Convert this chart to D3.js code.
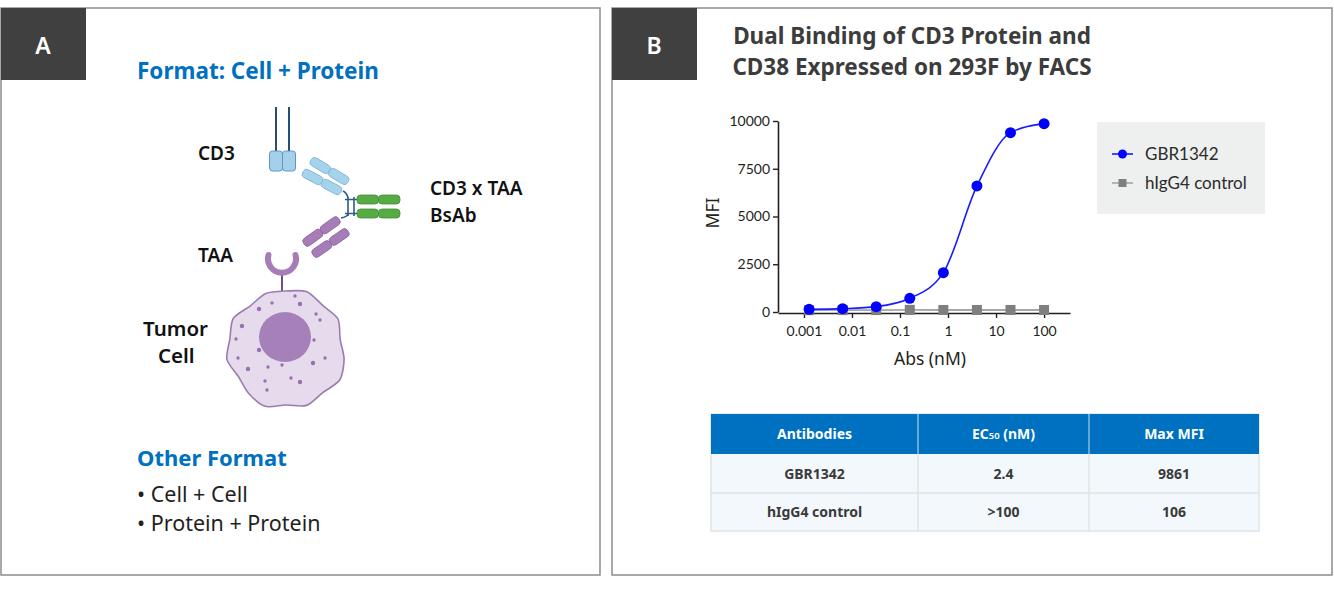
<!DOCTYPE html>
<html>
<head>
<meta charset="utf-8">
<script src="https://cdn.jsdelivr.net/npm/d3@7"></script>
<style>
  body { margin: 0; background: #fff; }
  svg { display: block; font-family: "Noto Sans", Lato, sans-serif; }
</style>
</head>
<body>
<script>
//Data
const doses = [0.00128, 0.0064, 0.032, 0.16, 0.8, 4, 20, 100];
const gbrMFI = [140, 175, 280, 716, 2060, 6600, 9390, 9861];
const ctrlMFI = [95, 100, 100, 110, 106, 106, 106, 106];
const xTicks = [0.001, 0.01, 0.1, 1, 10, 100];
const yTicks = [0, 2500, 5000, 7500, 10000];
const seriesNames = ["GBR1342", "hIgG4 control"];
const tableHeader = ["Antibodies", "EC|50| (nM)", "Max MFI"];
const tableRows = [["GBR1342", "2.4", "9861"], ["hIgG4 control", ">100", "106"]];
const otherFormats = ["Cell + Cell", "Protein + Protein"];

//Variables
const width = 1334;
const height = 595;
const ink = "#231f20";
const blue = "#0070c0";

const svg = d3.select("body")
    .append("svg")
    .attr("width", width)
    .attr("height", height);

//Panels
const panels = [
    {x: 1, w: 599, label: "A"},
    {x: 612, w: 720, label: "B"}
];
panels.forEach(p => {
    svg.append("rect")
        .attr("x", p.x).attr("y", 8)
        .attr("width", p.w).attr("height", 567)
        .attr("fill", "none")
        .attr("stroke", "#8d8d8d")
        .attr("stroke-width", 1.5);
    svg.append("rect")
        .attr("x", p.x).attr("y", 8)
        .attr("width", 85).attr("height", 72)
        .attr("fill", "#404041");
    svg.append("text")
        .attr("x", p.x + 42).attr("y", 54)
        .attr("text-anchor", "middle")
        .attr("fill", "#fff")
        .attr("font-size", 23)
        .attr("font-weight", 600)
        .text(p.label);
});

//Panel A text
svg.append("text")
    .attr("x", 137).attr("y", 79)
    .attr("fill", blue).attr("font-size", 22.5).attr("font-weight", "bold")
    .text("Format: Cell + Protein");

const labelsA = [
    ["CD3", 198, 160, 19], ["TAA", 198, 262, 19], ["CD3 x TAA", 430, 195, 19],
    ["BsAb", 430, 222, 19], ["Tumor", 143, 336, 20.5], ["Cell", 158, 363, 20.5]
];
labelsA.forEach(l => {
    svg.append("text")
        .attr("x", l[1]).attr("y", l[2])
        .attr("fill", "#111").attr("font-size", l[3])
        .attr("font-weight", 600)
        .text(l[0]);
});

svg.append("text")
    .attr("x", 137).attr("y", 466)
    .attr("fill", blue).attr("font-size", 22).attr("font-weight", "bold")
    .text("Other Format");

otherFormats.forEach((t, i) => {
    svg.append("text")
        .attr("x", 137).attr("y", 502 + i * 29)
        .attr("fill", ink).attr("font-size", 21.5)
        .text("\u2022 " + t);
});

//Illustration
const art = svg.append("g");

// CD3 receptor
[276, 289].forEach(cx => {
    art.append("line")
        .attr("x1", cx).attr("x2", cx).attr("y1", 107).attr("y2", 152)
        .attr("stroke", "#264d73").attr("stroke-width", 2);
    art.append("rect")
        .attr("x", cx - 6.5).attr("y", 151)
        .attr("width", 13).attr("height", 20).attr("rx", 3)
        .attr("fill", "#a4d0ea").attr("stroke", "#5f97c2").attr("stroke-width", 1);
});

// helper: a bar of two rounded segments between two points
function segBar(x1, y1, x2, y2, w, fill, stroke) {
    const len = Math.hypot(x2 - x1, y2 - y1);
    const ang = Math.atan2(y2 - y1, x2 - x1) * 180 / Math.PI;
    const g = art.append("g")
        .attr("transform", `translate(${x1},${y1}) rotate(${ang})`);
    [0, 1].forEach(k => {
        g.append("rect")
            .attr("x", k * len / 2).attr("y", -w / 2)
            .attr("width", len / 2).attr("height", w)
            .attr("rx", w / 2.5)
            .attr("fill", fill).attr("stroke", stroke).attr("stroke-width", 0.8);
    });
}

// connectors
const conn = "#2b5b87";
art.append("path")
    .attr("d", "M343,191 Q347,193 348,198 M341,218 Q347,217 348,214")
    .attr("fill", "none").attr("stroke", conn).attr("stroke-width", 1.6);
art.append("path")
    .attr("d", "M348,197 V216 M354,197 V216 M345,199.5 H358 M345,213.5 H358")
    .attr("fill", "none").attr("stroke", conn).attr("stroke-width", 1.6);

// Fab arms
segBar(311, 160, 348, 182, 9, "#a6d3ec", "#7ab3d6");
segBar(303, 172, 341, 192, 9, "#a6d3ec", "#7ab3d6");
segBar(304, 244, 339, 219, 9, "#a77db8", "#8d63a0");
segBar(313, 255, 348, 231, 9, "#a77db8", "#8d63a0");

// Fc
segBar(357, 199.5, 400, 199.5, 9, "#57ab45", "#3f8f32");
segBar(357, 213.5, 400, 213.5, 9, "#57ab45", "#3f8f32");

// TAA receptor
art.append("line")
    .attr("x1", 282).attr("x2", 282).attr("y1", 272).attr("y2", 293)
    .attr("stroke", "#6d4f80").attr("stroke-width", 2);
art.append("path")
    .attr("d", "M268.5,255 A14,14 0 1 0 295.5,255")
    .attr("fill", "none").attr("stroke", "#a77db8")
    .attr("stroke-width", 6).attr("stroke-linecap", "round");

// Tumor cell
const cellRadii = [58, 61, 57, 60, 55, 59, 62, 57, 60, 56, 61, 58, 55, 60, 57, 61, 56, 59];
const cellPath = d3.lineRadial()
    .angle((d, i) => i * 2 * Math.PI / cellRadii.length)
    .radius(d => d)
    .curve(d3.curveCardinalClosed.tension(0.2));
art.append("path")
    .attr("transform", "translate(286,349)")
    .attr("d", cellPath(cellRadii))
    .attr("fill", "#e5dbed").attr("stroke", "#9c7cb0").attr("stroke-width", 1.6);
art.append("ellipse")
    .attr("cx", 285).attr("cy", 337).attr("rx", 26).attr("ry", 25)
    .attr("fill", "#a680b9");
const cellDots = [[259,309],[272,303],[295,296],[300,304],[316,314],[320,320],[242,326],[236,339],
    [314,340],[259,350],[238,358],[325,358],[248,369],[268,367],[282,365],[313,363],[265,381],
    [291,378],[300,382],[267,390]];
art.selectAll(".dot").data(cellDots).join("circle")
    .attr("cx", d => d[0]).attr("cy", d => d[1])
    .attr("r", (d, i) => i % 3 === 0 ? 2.2 : 1.7)
    .attr("fill", "#9a70af");

//Panel B title
["Dual Binding of CD3 Protein and", "CD38 Expressed on 293F by FACS"].forEach((t, i) => {
    svg.append("text")
        .attr("x", 912).attr("y", 44 + i * 31)
        .attr("text-anchor", "middle")
        .attr("fill", "#3c3c3c").attr("font-size", 22.5).attr("font-weight", "bold")
        .text(t);
});

//Scales
const xScale = d3.scaleLog()
    .domain([Math.pow(10, -3.54), Math.pow(10, 2.54)])
    .range([778, 1070]);
const yScale = d3.scaleLinear()
    .domain([0, 10000])
    .range([312, 121]);

const xAxis = d3.axisBottom(xScale)
    .tickValues(xTicks)
    .tickFormat(d => String(d))
    .tickSize(5).tickSizeOuter(0);
const yAxis = d3.axisLeft(yScale)
    .tickValues(yTicks)
    .tickFormat(d => String(d))
    .tickSize(5).tickSizeOuter(0);

const gx = svg.append("g").attr("transform", "translate(0,313)").call(xAxis);
const gy = svg.append("g").attr("transform", "translate(778,0)").call(yAxis);
[gx, gy].forEach(g => {
    g.select(".domain").attr("stroke", ink).attr("stroke-width", 1.6);
    g.selectAll(".tick line").attr("stroke", ink).attr("stroke-width", 1.4);
    g.selectAll(".tick text")
        .attr("fill", ink).attr("font-size", 14)
        .attr("font-family", "Lato, 'Noto Sans', sans-serif");
});
gx.selectAll(".tick text").attr("dy", "1.1em");

svg.append("text")
    .attr("x", 930).attr("y", 365)
    .attr("text-anchor", "middle")
    .attr("fill", ink).attr("font-size", 17.5)
    .text("Abs (nM)");
svg.append("text")
    .attr("transform", "translate(719,213) rotate(-90)")
    .attr("text-anchor", "middle")
    .attr("fill", ink).attr("font-size", 17.5)
    .text("MFI");

//Series
const gbrData = doses.map((d, i) => ({dose: d, v: gbrMFI[i]}));
const ctrlData = doses.map((d, i) => ({dose: d, v: ctrlMFI[i]}));

const lineLin = d3.line().x(d => xScale(d.dose)).y(d => yScale(d.v));
const lineFit = d3.line().x(d => xScale(d.dose)).y(d => yScale(d.v)).curve(d3.curveMonotoneX);

svg.append("path")
    .attr("d", lineLin(ctrlData))
    .attr("fill", "none").attr("stroke", "#a6a6a6").attr("stroke-width", 1.8);
svg.selectAll(".sq").data(ctrlData).join("rect")
    .attr("x", d => xScale(d.dose) - 5).attr("y", d => yScale(d.v) - 5)
    .attr("width", 10).attr("height", 10)
    .attr("fill", "#7f7f7f");

svg.append("path")
    .attr("d", lineFit(gbrData))
    .attr("fill", "none").attr("stroke", "#1a1aff").attr("stroke-width", 1.6);
svg.selectAll(".pt").data(gbrData).join("circle")
    .attr("cx", d => xScale(d.dose)).attr("cy", d => yScale(d.v))
    .attr("r", 5.5)
    .attr("fill", "#0000ff");

//Legend
svg.append("rect")
    .attr("x", 1097).attr("y", 122).attr("width", 168).attr("height", 92)
    .attr("fill", "#eeefef");
seriesNames.forEach((name, i) => {
    const ly = 154 + i * 29;
    const col = i === 0 ? "#1a1aff" : "#a6a6a6";
    svg.append("line")
        .attr("x1", 1112).attr("x2", 1133).attr("y1", ly).attr("y2", ly)
        .attr("stroke", col).attr("stroke-width", 1.6);
    if (i === 0) {
        svg.append("circle").attr("cx", 1122.5).attr("cy", ly).attr("r", 4.5).attr("fill", "#0000ff");
    } else {
        svg.append("rect").attr("x", 1118.5).attr("y", ly - 4).attr("width", 8).attr("height", 8).attr("fill", "#7f7f7f");
    }
    svg.append("text")
        .attr("x", 1145).attr("y", ly + 6)
        .attr("fill", "#2b2b2b").attr("font-size", 17)
        .attr("font-family", "Lato, 'Noto Sans', sans-serif")
        .text(name);
});

//Table
const colEdges = [711, 918, 1089, 1259];
const rowEdges = [414, 454, 493, 531];

svg.append("rect")
    .attr("x", colEdges[0]).attr("y", rowEdges[0])
    .attr("width", colEdges[3] - colEdges[0]).attr("height", rowEdges[3] - rowEdges[0])
    .attr("fill", "#f2f8fb").attr("stroke", "#dfe4e6").attr("stroke-width", 1.5);
svg.append("rect")
    .attr("x", colEdges[0]).attr("y", rowEdges[0])
    .attr("width", colEdges[3] - colEdges[0]).attr("height", rowEdges[1] - rowEdges[0])
    .attr("fill", "#0070c0");
[1, 2].forEach(c => {
    svg.append("line")
        .attr("x1", colEdges[c]).attr("x2", colEdges[c])
        .attr("y1", rowEdges[0]).attr("y2", rowEdges[1])
        .attr("stroke", "#cfe0ee").attr("stroke-width", 1);
    svg.append("line")
        .attr("x1", colEdges[c]).attr("x2", colEdges[c])
        .attr("y1", rowEdges[1]).attr("y2", rowEdges[3])
        .attr("stroke", "#dfe4e6").attr("stroke-width", 1.5);
});
svg.append("line")
    .attr("x1", colEdges[0]).attr("x2", colEdges[3])
    .attr("y1", rowEdges[2]).attr("y2", rowEdges[2])
    .attr("stroke", "#dfe4e6").attr("stroke-width", 1.5);

function cellText(str, c, r, fill) {
    const t = svg.append("text")
        .attr("x", (colEdges[c] + colEdges[c + 1]) / 2)
        .attr("y", (rowEdges[r] + rowEdges[r + 1]) / 2 + 5)
        .attr("text-anchor", "middle")
        .attr("fill", fill).attr("font-size", 14).attr("font-weight", "bold");
    str.split("|").forEach((part, k) => {
        const ts = t.append("tspan").text(part);
        if (k === 1) ts.attr("font-size", 9.5).attr("font-weight", 600);
    });
}
tableHeader.forEach((h, c) => cellText(h, c, 0, "#fff"));
tableRows.forEach((row, r) => row.forEach((v, c) => cellText(v, c, r + 1, "#3a3a3a")));
</script>
</body>
</html>
